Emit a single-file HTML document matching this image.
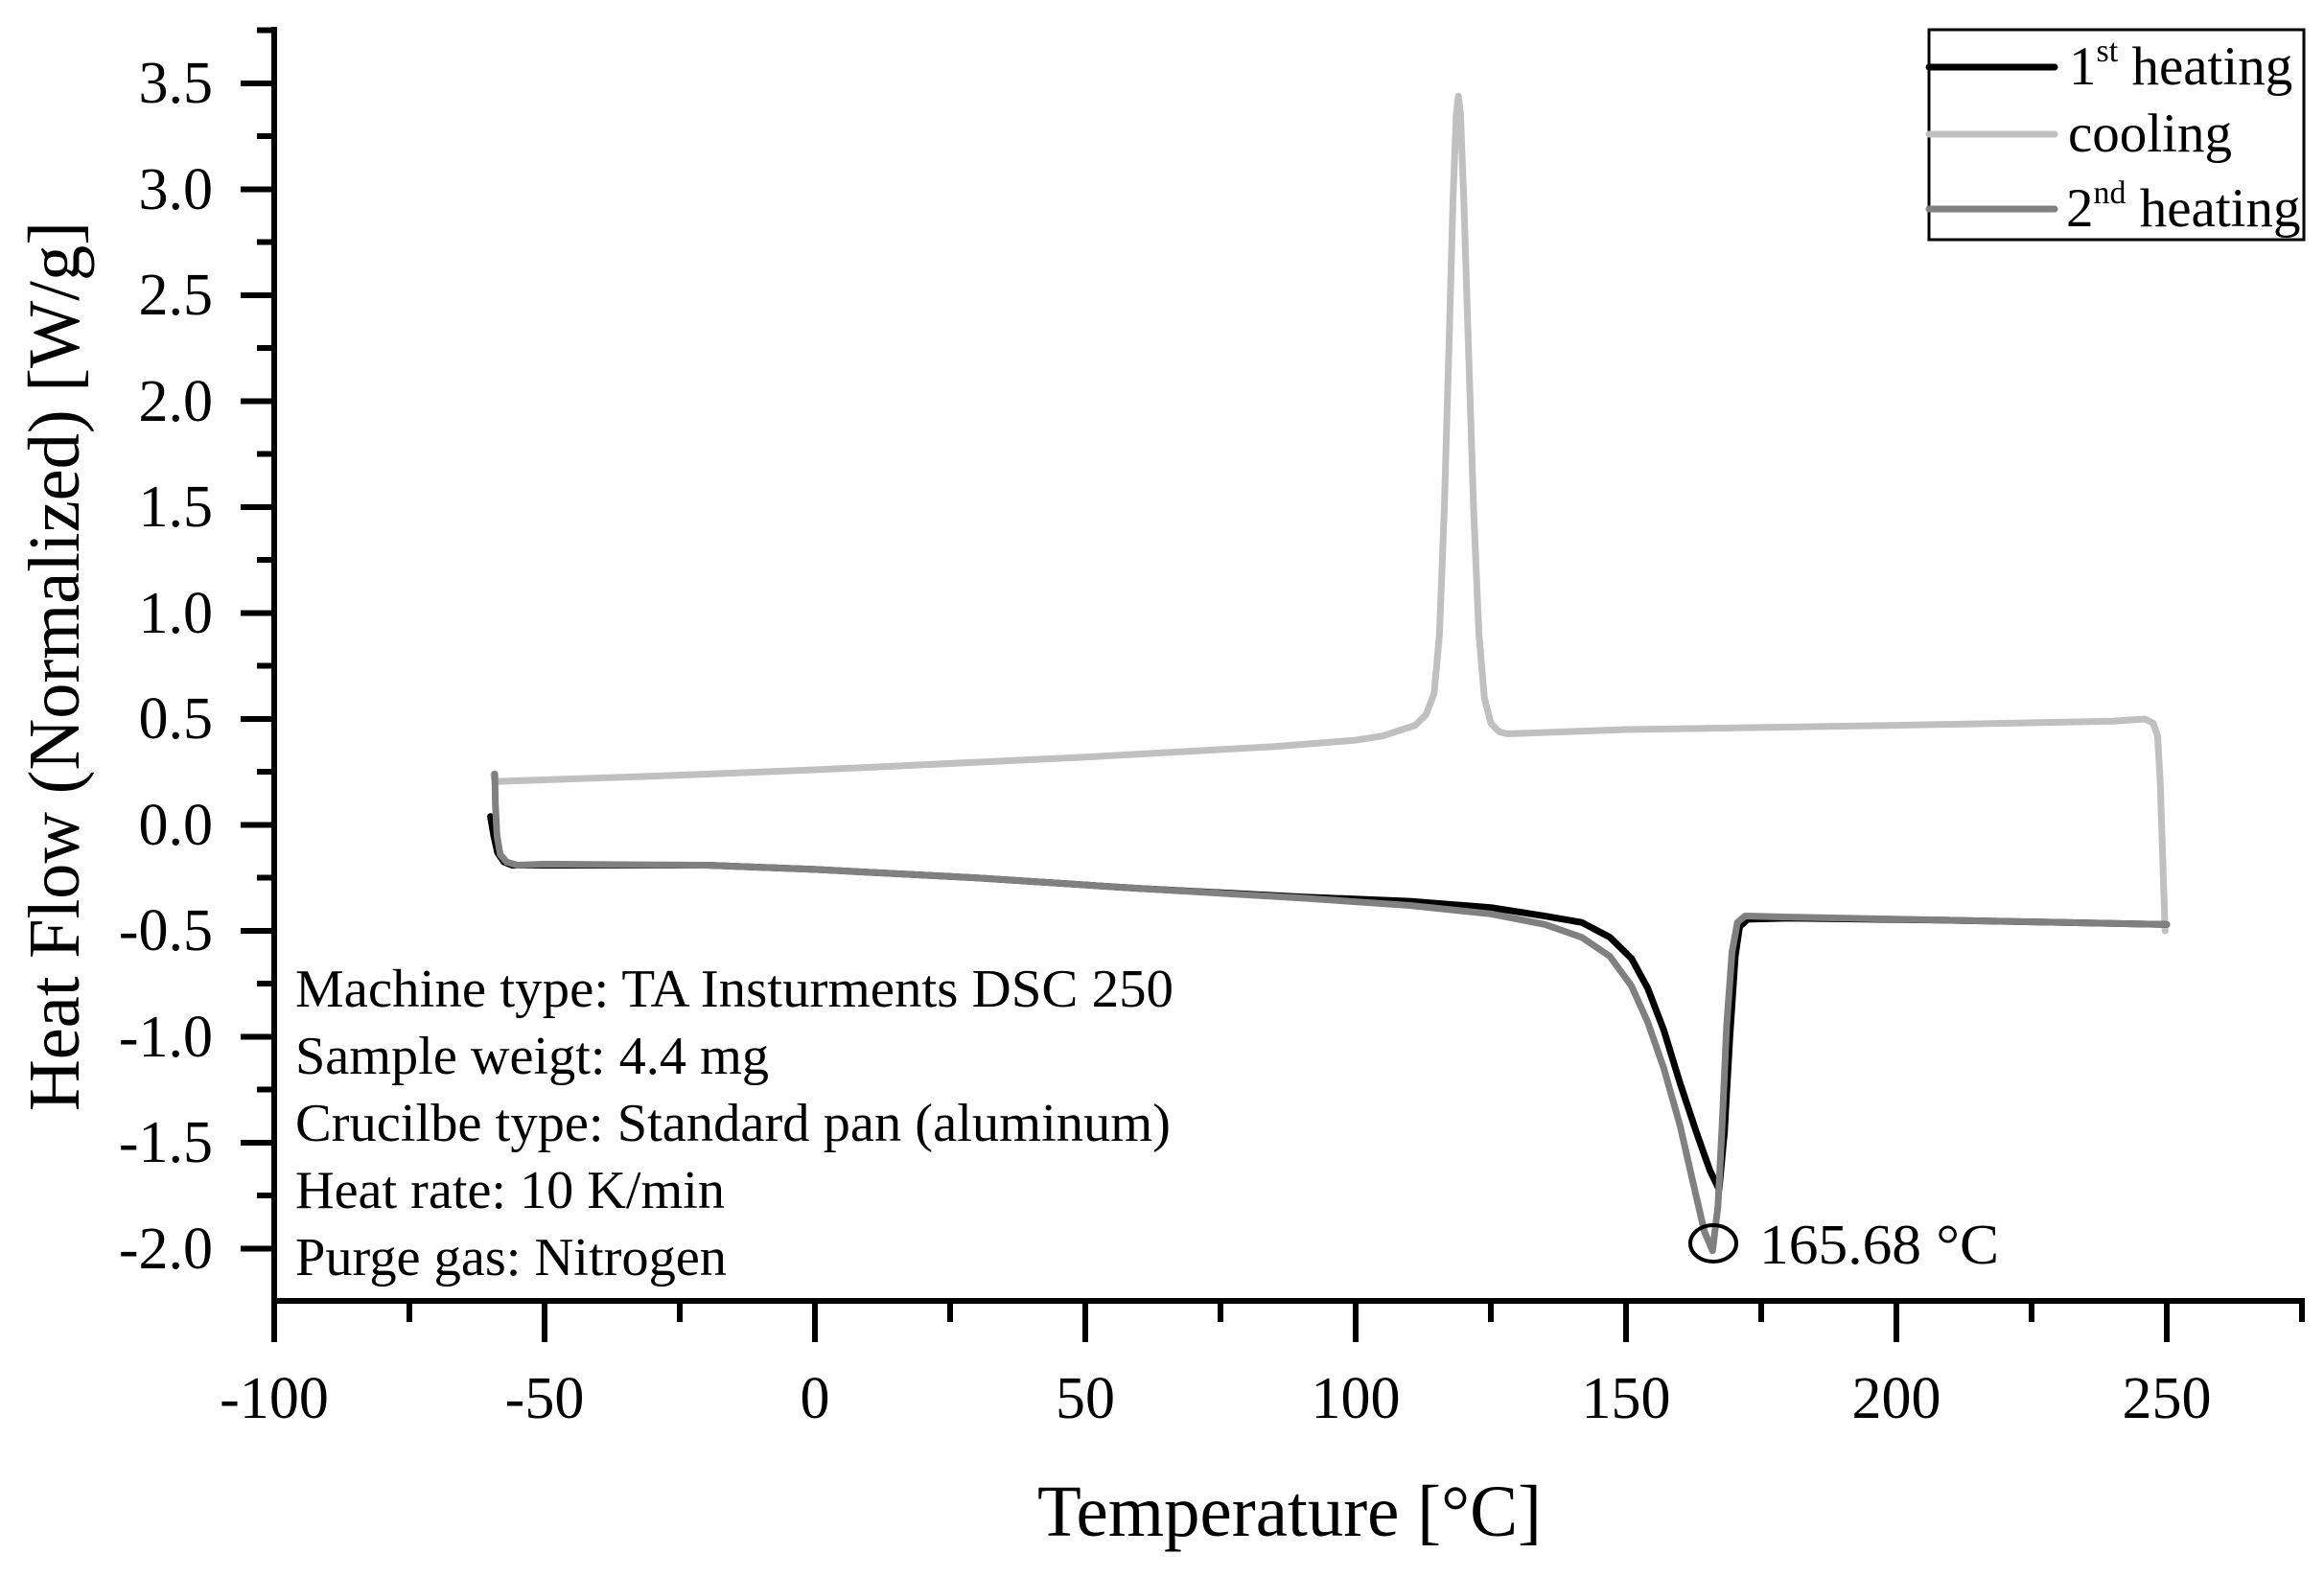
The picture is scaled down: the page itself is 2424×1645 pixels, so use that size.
<!DOCTYPE html>
<html><head><meta charset="utf-8"><style>html,body{margin:0;padding:0;background:#fff}svg{display:block}text{font-family:"Liberation Serif",serif;fill:#000}</style></head><body>
<svg width="2424" height="1645" viewBox="0 0 2424 1645" xmlns="http://www.w3.org/2000/svg">
<g stroke="#000" stroke-width="6" fill="none">
<line x1="286" y1="28" x2="286" y2="1360"/>
<line x1="283" y1="1357" x2="2404" y2="1357"/>
<path d="M251 87H286M251 197.5H286M251 308H286M251 418.5H286M251 529H286M251 639.5H286M251 750H286M251 860.5H286M251 971H286M251 1081.5H286M251 1192H286M251 1302.5H286"/>
<path d="M268 31.5H286M268 142H286M268 252.5H286M268 363H286M268 473.5H286M268 584H286M268 694.5H286M268 805H286M268 915.5H286M268 1026H286M268 1136.5H286M268 1247H286"/>
<path d="M286 1357V1400M568 1357V1400M850 1357V1400M1132 1357V1400M1414 1357V1400M1696 1357V1400M1978 1357V1400M2260 1357V1400"/>
<path d="M427 1357V1379M709 1357V1379M991 1357V1379M1273 1357V1379M1555 1357V1379M1837 1357V1379M2119 1357V1379M2401 1357V1379"/>
</g>
<g font-size="62" text-anchor="end">
<text x="222" y="107">3.5</text>
<text x="222" y="218">3.0</text>
<text x="222" y="328">2.5</text>
<text x="222" y="439">2.0</text>
<text x="222" y="549">1.5</text>
<text x="222" y="660">1.0</text>
<text x="222" y="770">0.5</text>
<text x="222" y="881">0.0</text>
<text x="222" y="991">-0.5</text>
<text x="222" y="1102">-1.0</text>
<text x="222" y="1212">-1.5</text>
<text x="222" y="1323">-2.0</text>
</g>
<g font-size="62" text-anchor="middle">
<text x="286" y="1479">-100</text>
<text x="568" y="1479">-50</text>
<text x="850" y="1479">0</text>
<text x="1132" y="1479">50</text>
<text x="1414" y="1479">100</text>
<text x="1696" y="1479">150</text>
<text x="1978" y="1479">200</text>
<text x="2260" y="1479">250</text>
</g>
<text x="1345" y="1602" font-size="76" text-anchor="middle" textLength="526" lengthAdjust="spacingAndGlyphs">Temperature [°C]</text>
<text transform="translate(82,695) rotate(-90)" font-size="76" text-anchor="middle" textLength="928" lengthAdjust="spacingAndGlyphs">Heat Flow (Normalized) [W/g]</text>
<g fill="none" stroke-linejoin="round" stroke-linecap="round" transform="matrix(5.64 0 0 -221 850 860.5)">
<path vector-effect="non-scaling-stroke" stroke="#c0c0c0" stroke-width="7" d="M249.7 -0.5 L249.3 -0.2 L248.8 0.2 L248.3 0.42 L247.5 0.48 L246 0.5 L240 0.49 L200 0.47 L150 0.45 L128 0.43 L126.5 0.44 L125 0.48 L123.8 0.6 L122.8 0.9 L121.8 1.5 L120.8 2.3 L120 2.95 L119.4 3.35 L119 3.44 L118.6 3.35 L118 2.95 L117.3 2.3 L116.4 1.5 L115.5 0.9 L114.5 0.62 L113 0.52 L111 0.47 L105 0.42 L100 0.40 L85 0.37 L50 0.32 L0 0.26 L-30 0.23 L-59.2 0.205 L-59.4 0.24"/>
<path vector-effect="non-scaling-stroke" stroke="#000" stroke-width="7" d="M-60 0.04 L-59.4 -0.05 L-58.7 -0.13 L-57.5 -0.175 L-56 -0.19 L-50 -0.19 L-20 -0.19 L0 -0.21 L30 -0.25 L60 -0.3 L90 -0.34 L110 -0.36 L125 -0.39 L135 -0.43 L141.8 -0.46 L147 -0.53 L151 -0.63 L154 -0.77 L157 -0.97 L160 -1.22 L163 -1.45 L165.5 -1.63 L167.2 -1.72 L168.2 -1.45 L169.2 -1.0 L170.2 -0.62 L171 -0.48 L172.5 -0.445 L180 -0.44 L210 -0.45 L250 -0.47"/>
<path vector-effect="non-scaling-stroke" stroke="#808080" stroke-width="7" d="M-59.2 0.24 L-59.1 0.1 L-58.8 -0.05 L-58.2 -0.14 L-57 -0.175 L-55 -0.19 L-50 -0.185 L-20 -0.19 L0 -0.21 L30 -0.25 L60 -0.3 L90 -0.345 L110 -0.38 L125 -0.42 L135 -0.47 L141.8 -0.53 L147 -0.62 L151 -0.76 L154 -0.93 L157 -1.15 L160 -1.42 L162.5 -1.7 L164.5 -1.92 L166 -2.01 L167 -1.8 L167.8 -1.4 L168.6 -0.95 L169.6 -0.6 L170.6 -0.46 L172 -0.43 L180 -0.435 L210 -0.45 L250 -0.47"/>
</g>
<ellipse cx="1787" cy="1297" rx="24" ry="19" fill="none" stroke="#000" stroke-width="4"/>
<text x="1835" y="1318" font-size="59" textLength="250" lengthAdjust="spacingAndGlyphs">165.68 °C</text>
<g font-size="56">
<text x="308" y="1050" textLength="916" lengthAdjust="spacingAndGlyphs">Machine type: TA Insturments DSC 250</text>
<text x="308" y="1120" textLength="494" lengthAdjust="spacingAndGlyphs">Sample weigt: 4.4 mg</text>
<text x="308" y="1190" textLength="913" lengthAdjust="spacingAndGlyphs">Crucilbe type: Standard pan (aluminum)</text>
<text x="308" y="1260" textLength="448" lengthAdjust="spacingAndGlyphs">Heat rate: 10 K/min</text>
<text x="308" y="1330" textLength="450" lengthAdjust="spacingAndGlyphs">Purge gas: Nitrogen</text>
</g>
<rect x="2012" y="31" width="391" height="219" fill="#fff" stroke="#000" stroke-width="3"/>
<g stroke-width="7" stroke-linecap="round">
<line x1="2012" y1="70" x2="2143" y2="70" stroke="#000"/>
<line x1="2012" y1="140" x2="2143" y2="140" stroke="#c0c0c0"/>
<line x1="2012" y1="218" x2="2143" y2="218" stroke="#808080"/>
</g>
<g font-size="57">
<text x="2158" y="88">1<tspan font-size="34" dy="-24">st</tspan><tspan dy="24"> heating</tspan></text>
<text x="2157" y="158">cooling</text>
<text x="2155" y="236">2<tspan font-size="34" dy="-24">nd</tspan><tspan dy="24"> heating</tspan></text>
</g>
</svg>
</body></html>
